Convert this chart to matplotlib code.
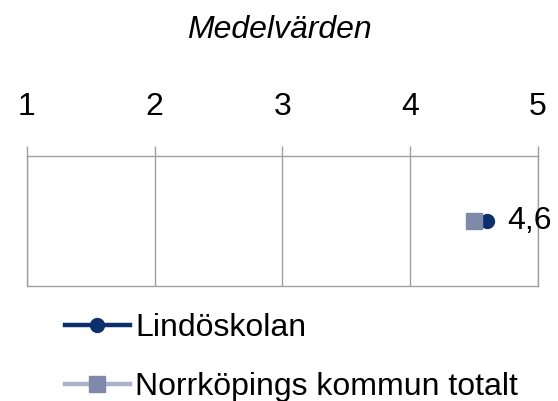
import matplotlib
matplotlib.use('Agg')
import matplotlib.pyplot as plt

plt.rcParams['font.family'] = ['Liberation Sans', 'DejaVu Sans']

series = ['Lindöskolan', 'Norrköpings kommun totalt']
values = [4.6, 4.5]
labels = ['4,6', None]
ticks = [1, 2, 3, 4, 5]
tick_labels = ['1', '2', '3', '4', '5']

fig = plt.figure(figsize=(5.58, 4.01), dpi=100)
ax = fig.add_axes([0.0478, 0.288, 0.9164, 0.324])

# Lindö first, Norrköping square drawn on top of it
ax.plot([values[0]], [0], linestyle='-', color='#0d2f6b', linewidth=3.2,
        marker='o', markersize=10, markerfacecolor='#0d2f6b',
        markeredgecolor='#0d2f6b', label=series[0], zorder=3)
ax.plot([values[1]], [0], linestyle='-', color='#aab2c8', linewidth=3.2,
        marker='s', markersize=11, markerfacecolor='#7f8aab',
        markeredgecolor='#7f8aab', label=series[1], zorder=4)

ax.annotate(labels[0], xy=(values[0], 0), xytext=(15, 0),
            textcoords='offset points', va='center', ha='left',
            fontsize=23, annotation_clip=False, zorder=5)

ax.set_xlim(1, 5)
ax.set_ylim(-1, 1)
ax.set_xticks(ticks)
ax.set_xticklabels(tick_labels, fontsize=23)
ax.xaxis.tick_top()
ax.tick_params(axis='x', length=7, width=1, color='#a0a0a0', pad=17)
ax.set_yticks([])
ax.grid(axis='x', color='#a0a0a0', linewidth=1)
for s in ax.spines.values():
    s.set_color('#a0a0a0')
    s.set_linewidth(1)

fig.text(0.5, 0.925, 'Medelvärden', ha='center', va='center',
         fontsize=23, style='italic')

fig.legend(loc='upper left', bbox_to_anchor=(0.093, 0.252), frameon=False,
           fontsize=23, handlelength=2.05, handletextpad=0.15,
           labelspacing=0.92, borderaxespad=0)

fig.savefig('out.png', dpi=100)
